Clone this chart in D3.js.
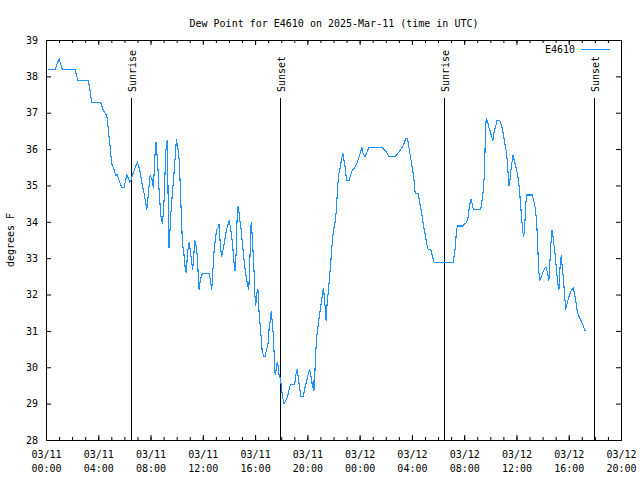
<!DOCTYPE html>
<html><head><meta charset="utf-8">
<script src="https://cdn.jsdelivr.net/npm/d3@7"></script>
<style>
body{margin:0;background:#fff}
svg{display:block;background:#fff}
text{font-family:"DejaVu Sans Mono",monospace;font-size:10px;fill:#000}
</style>
</head><body><svg id="chart" width="640" height="480"></svg>
<script>
const chartTitle = "Dew Point for E4610 on 2025-Mar-11 (time in UTC)";
const yAxisLabel = "degrees F";
const seriesName = "E4610";
const xDomain = ["11 00:00", "12 20:00"];
const yDomain = [28, 39];
const yTickValues = [28, 29, 30, 31, 32, 33, 34, 35, 36, 37, 38, 39];

const times = [
"11 00:10","11 00:41","11 01:00","11 01:15","11 02:13","11 02:27","11 03:15","11 03:30","11 04:11","11 04:22",
"11 04:31","11 04:39","11 04:47","11 04:54","11 05:02","11 05:12","11 05:20","11 05:28","11 05:39","11 05:48",
"11 05:58","11 06:11","11 06:19","11 06:25","11 06:30","11 06:37","11 06:49","11 07:00","11 07:10","11 07:20",
"11 07:30","11 07:43","11 07:50","11 07:58","11 08:06","11 08:13","11 08:21","11 08:25","11 08:32","11 08:39",
"11 08:47","11 08:55","11 09:02","11 09:10","11 09:16","11 09:19","11 09:22","11 09:25","11 09:30","11 09:34",
"11 09:39","11 09:45","11 09:51","11 09:56","11 09:59","11 10:02","11 10:06","11 10:11","11 10:17","11 10:22",
"11 10:27","11 10:33","11 10:39","11 10:45","11 10:48","11 10:52","11 10:57","11 11:02","11 11:08","11 11:13",
"11 11:17","11 11:23","11 11:31","11 11:36","11 11:40","11 11:43","11 11:47","11 11:54","11 12:01","11 12:29",
"11 12:35","11 12:41","11 12:47","11 12:52","11 12:58","11 13:04","11 13:10","11 13:15","11 13:19","11 13:26",
"11 13:30","11 13:36","11 13:42","11 13:49","11 13:56","11 14:01","11 14:07","11 14:13","11 14:18","11 14:22",
"11 14:28","11 14:33","11 14:37","11 14:42","11 14:45","11 14:50","11 14:56","11 15:02","11 15:08","11 15:13",
"11 15:19","11 15:25","11 15:31","11 15:34","11 15:39","11 15:42","11 15:46","11 15:51","11 15:56","11 15:59",
"11 16:03","11 16:08","11 16:13","11 16:19","11 16:25","11 16:32","11 16:39","11 16:45","11 16:51","11 16:59",
"11 17:04","11 17:11","11 17:14","11 17:18","11 17:23","11 17:27","11 17:32","11 17:37","11 17:41","11 17:46",
"11 17:50","11 17:57","11 18:01","11 18:06","11 18:13","11 18:21","11 18:29","11 18:36","11 18:43","11 19:02",
"11 19:07","11 19:13","11 19:18","11 19:24","11 19:31","11 19:41","11 19:47","11 19:53","11 19:59","11 20:05",
"11 20:11","11 20:17","11 20:24","11 20:27","11 20:30","11 20:33","11 20:38","11 20:42","11 20:47","11 20:51",
"11 20:57","11 21:03","11 21:10","11 21:14","11 21:19","11 21:24","11 21:26","11 21:31","11 21:37","11 21:42",
"11 21:47","11 21:51","11 21:56","11 22:00","11 22:06","11 22:11","11 22:16","11 22:20","11 22:25","11 22:31",
"11 22:37","11 22:43","11 22:48","11 22:54","11 23:00","11 23:12","11 23:18","11 23:28","11 23:37","11 23:46",
"11 23:55","12 00:03","12 00:10","12 00:16","12 00:24","12 00:32","12 00:41","12 00:47","12 01:45","12 02:01",
"12 02:16","12 02:42","12 02:56","12 03:09","12 03:20","12 03:31","12 03:40","12 03:48","12 03:59","12 04:08",
"12 04:15","12 04:29","12 04:37","12 04:45","12 04:52","12 05:00","12 05:08","12 05:15","12 05:27","12 05:35",
"12 05:42","12 07:10","12 07:13","12 07:19","12 07:25","12 07:30","12 07:53","12 08:11","12 08:17","12 08:23",
"12 08:31","12 08:37","12 08:42","12 09:16","12 09:22","12 09:28","12 09:34","12 09:37","12 09:41","12 09:48",
"12 09:54","12 10:00","12 10:06","12 10:12","12 10:18","12 10:25","12 10:31","12 10:44","12 10:52","12 10:59",
"12 11:07","12 11:15","12 11:21","12 11:26","12 11:30","12 11:36","12 11:44","12 11:50","12 11:58","12 12:06",
"12 12:13","12 12:19","12 12:24","12 12:29","12 12:33","12 12:38","12 12:42","12 12:48","12 13:13","12 13:19",
"12 13:26","12 13:33","12 13:38","12 13:42","12 13:47","12 13:54","12 14:03","12 14:12","12 14:17","12 14:23",
"12 14:29","12 14:35","12 14:42","12 14:46","12 14:51","12 14:57","12 15:03","12 15:09","12 15:15","12 15:20",
"12 15:26","12 15:29","12 15:34","12 15:40","12 15:46","12 15:52","12 15:58","12 16:06","12 16:14","12 16:20",
"12 16:26","12 16:32","12 16:38","12 16:44","12 16:52","12 17:00","12 17:07","12 17:16"
];

const dewPointF = [
38.2,38.2,38.5,38.2,38.2,37.9,37.9,37.3,37.3,37.1,
37.0,36.95,36.5,36.1,35.6,35.45,35.3,35.3,35.1,34.95,
34.95,35.3,35.2,35.1,35.15,35.3,35.5,35.65,35.45,35.1,
34.8,34.35,34.8,35.3,35.2,34.95,35.9,36.2,35.7,34.9,
34.2,33.95,34.6,35.95,36.25,35.5,34.05,33.3,33.85,34.3,
34.7,35.15,35.6,36.05,36.3,36.15,36.0,35.75,34.95,34.05,
33.4,33.15,32.75,32.6,33.0,33.25,33.45,33.25,32.95,32.7,
32.95,33.5,33.3,32.95,32.4,32.15,32.35,32.55,32.6,32.6,
32.4,32.15,32.75,33.25,33.55,33.8,33.85,33.95,33.5,33.05,
33.15,33.35,33.55,33.8,33.95,34.05,33.85,33.6,33.3,32.95,
32.65,33.15,34.05,34.45,34.35,34.05,33.8,33.4,33.05,32.75,
32.5,32.3,32.15,32.6,33.5,34.0,33.7,33.15,32.55,32.0,
31.7,32.05,32.15,31.45,31.05,30.5,30.3,30.3,30.45,30.65,
31.05,31.35,31.55,31.3,30.95,30.45,29.8,29.95,30.15,30.05,
29.8,29.7,29.45,29.2,29.0,29.1,29.2,29.4,29.55,29.55,
29.8,29.95,29.75,29.45,29.2,29.2,29.4,29.55,29.7,29.85,
29.95,29.75,29.45,29.65,29.35,29.65,30.35,30.8,31.05,31.25,
31.5,31.75,32.05,32.2,31.85,31.5,31.3,31.8,32.15,32.5,
32.85,33.2,33.55,33.8,33.95,34.2,34.65,35.05,35.35,35.5,
35.75,35.9,35.7,35.5,35.15,35.15,35.3,35.45,35.5,35.6,
35.75,35.9,36.05,35.9,35.8,35.9,36.05,36.05,36.05,35.95,
35.8,35.8,35.9,36.0,36.1,36.3,36.3,36.0,35.6,35.25,
34.8,34.8,34.5,34.25,33.95,33.7,33.4,33.25,33.25,33.05,
32.9,32.9,33.05,33.3,33.8,33.9,33.9,34.0,34.1,34.4,
34.65,34.5,34.35,34.35,34.6,34.9,35.45,36.4,36.85,36.75,
36.6,36.5,36.35,36.25,36.5,36.65,36.8,36.8,36.65,36.45,
36.15,35.9,35.4,35.0,35.15,35.5,35.85,35.7,35.5,35.3,
34.95,34.5,34.1,33.75,33.6,33.85,34.5,34.75,34.75,34.6,
34.4,34.0,33.3,32.7,32.4,32.5,32.65,32.75,32.75,32.6,
32.4,33.05,33.8,33.7,33.45,33.15,32.75,32.35,32.15,32.75,
33.1,32.85,32.55,32.1,31.6,31.75,31.9,32.05,32.15,32.2,
32.05,31.85,31.6,31.45,31.35,31.25,31.15,31.0
];

const sunEventTimes = ["11 06:30", "11 17:55", "12 06:28", "12 17:57"];
const sunEventLabels = ["Sunrise", "Sunset", "Sunrise", "Sunset"];

const parseT = s => d3.utcParse("%Y-%m-%d %H:%M")("2025-03-" + s);

const svg = d3.select("#chart");
const L = 46, R = 621, T = 40, B = 440;

const x = d3.scaleUtc().domain(xDomain.map(parseT)).range([L, R]);
const y = d3.scaleLinear().domain(yDomain).range([B, T]);

const majorX = d3.utcHour.every(4).range(x.domain()[0], d3.utcHour.offset(x.domain()[1], 1));
const minorX = d3.utcHour.every(1).range(x.domain()[0], d3.utcHour.offset(x.domain()[1], 1));

// frame
svg.append("rect").attr("x", L + 0.5).attr("y", T + 0.5).attr("width", R - L).attr("height", B - T)
  .attr("fill", "none").attr("stroke", "#000").attr("stroke-width", 1);

function styleAxis(g) {
  g.select(".domain").remove();
  g.selectAll(".tick line").attr("stroke", "#000");
  g.selectAll("text").attr("font-family", null).attr("font-size", null);
}

// bottom major ticks with labels
const gx = svg.append("g").attr("transform", `translate(0,${B})`)
  .call(d3.axisBottom(x).tickValues(majorX).tickSizeInner(-5).tickSizeOuter(0).tickPadding(0).tickFormat(d => d))
  .call(styleAxis);
gx.selectAll(".tick text").each(function(d) {
  const t = d3.select(this);
  t.text(null).attr("y", null).attr("dy", null);
  t.append("tspan").attr("x", 0).attr("y", 18).text(d3.utcFormat("%m/%d")(d));
  t.append("tspan").attr("x", 0).attr("y", 32).text(d3.utcFormat("%H:%M")(d));
});
svg.append("g").attr("transform", `translate(0,${B})`)
  .call(d3.axisBottom(x).tickValues(minorX).tickSizeInner(-3).tickSizeOuter(0).tickFormat(""))
  .call(styleAxis);
// top mirrored ticks
svg.append("g").attr("transform", `translate(0,${T})`)
  .call(d3.axisTop(x).tickValues(majorX).tickSizeInner(-5).tickSizeOuter(0).tickFormat(""))
  .call(styleAxis);
svg.append("g").attr("transform", `translate(0,${T})`)
  .call(d3.axisTop(x).tickValues(minorX).tickSizeInner(-3).tickSizeOuter(0).tickFormat(""))
  .call(styleAxis);

// left axis
svg.append("g").attr("transform", `translate(${L},0)`)
  .call(d3.axisLeft(y).tickValues(yTickValues).tickSizeInner(-5).tickSizeOuter(0).tickPadding(8).tickFormat(d3.format("d")))
  .call(styleAxis);
// right mirrored
svg.append("g").attr("transform", `translate(${R},0)`)
  .call(d3.axisRight(y).tickValues(yTickValues).tickSizeInner(-5).tickSizeOuter(0).tickFormat(""))
  .call(styleAxis);

// sunrise / sunset lines
const sun = svg.append("g");
sunEventTimes.forEach((s, i) => {
  const xp = Math.round(x(parseT(s))) + 0.5;
  sun.append("line").attr("x1", xp).attr("x2", xp).attr("y1", 98).attr("y2", B)
    .attr("stroke", "#000").attr("stroke-width", 1);
  sun.append("text").attr("transform", `translate(${xp + 4},92) rotate(-90)`)
    .attr("text-anchor", "start").text(sunEventLabels[i]);
});

// data line
const data = times.map((t, i) => ({ t: parseT(t), v: dewPointF[i] }));
svg.append("path").datum(data)
  .attr("fill", "none").attr("stroke", "#1e90ff").attr("stroke-width", 1.1)
  .attr("shape-rendering", "crispEdges")
  .attr("d", d3.line().x(d => x(d.t)).y(d => y(d.v) + 0.5));

// title
svg.append("text").attr("x", (L + R) / 2 + 0.5).attr("y", 27).attr("text-anchor", "middle").text(chartTitle);

// y label
svg.append("text").attr("transform", `translate(14,${(T + B) / 2}) rotate(-90)`)
  .attr("text-anchor", "middle").text(yAxisLabel);

// legend
svg.append("text").attr("x", 575).attr("y", 53).attr("text-anchor", "end").text(seriesName);
svg.append("line").attr("x1", 581).attr("x2", 610).attr("y1", 49.5).attr("y2", 49.5)
  .attr("stroke", "#1e90ff").attr("stroke-width", 1);
</script>
</body></html>
